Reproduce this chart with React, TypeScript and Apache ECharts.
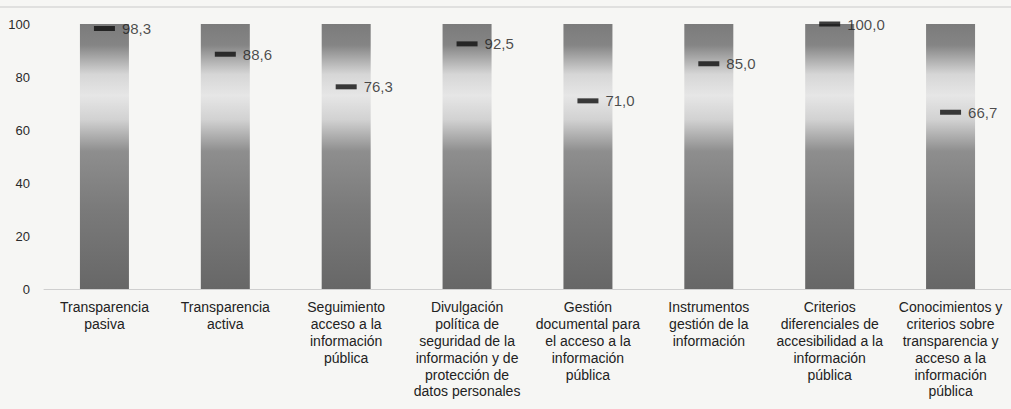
import React, { useEffect, useRef } from "react";
import * as echarts from "echarts";

const categories: string[] = [
  "Transparencia\npasiva",
  "Transparencia\nactiva",
  "Seguimiento\nacceso a la\ninformación\npública",
  "Divulgación\npolítica de\nseguridad de la\ninformación y de\nprotección de\ndatos personales",
  "Gestión\ndocumental para\nel acceso a la\ninformación\npública",
  "Instrumentos\ngestión de la\ninformación",
  "Criterios\ndiferenciales de\naccesibilidad a la\ninformación\npública",
  "Conocimientos y\ncriterios sobre\ntransparencia y\nacceso a la\ninformación\npública",
];
const scaleMax: number[] = [100, 100, 100, 100, 100, 100, 100, 100];
const values: number[] = [98.3, 88.6, 76.3, 92.5, 71.0, 85.0, 100.0, 66.7];
const yTicks = { min: 0, max: 100, interval: 20 };

export default function App() {
  const ref = useRef<HTMLDivElement>(null);
  useEffect(() => {
    document.body.style.margin = "0";
    if (!ref.current) return;
    const chart = echarts.init(ref.current, null, { renderer: "svg" });
    const font = "'Liberation Sans', Arial, sans-serif";
    const grad = new echarts.graphic.LinearGradient(0, 0, 0, 1, [
      { offset: 0, color: "#7b7b7b" },
      { offset: 0.08, color: "#858585" },
      { offset: 0.19, color: "#d6d6d6" },
      { offset: 0.27, color: "#e6e6e6" },
      { offset: 0.36, color: "#d2d2d2" },
      { offset: 0.48, color: "#8e8e8e" },
      { offset: 0.7, color: "#7a7a7a" },
      { offset: 1, color: "#676767" },
    ]);
    chart.setOption({
      animation: false,
      backgroundColor: "#f6f6f4",
      textStyle: { fontFamily: font },
      graphic: [
        {
          type: "line",
          shape: { x1: 0, y1: 7, x2: 1011, y2: 7 },
          style: { stroke: "#d9d9d9", lineWidth: 1.5 },
          silent: true,
        },
      ],
      grid: { left: 44, right: -6, top: 24, bottom: 120 },
      xAxis: {
        type: "category",
        data: categories,
        axisLine: { lineStyle: { color: "#cfcfcf", width: 1 } },
        axisTick: { show: false },
        axisLabel: {
          interval: 0,
          color: "#222",
          fontSize: 14,
          lineHeight: 16.8,
          margin: 10,
          fontFamily: font,
        },
      },
      yAxis: {
        type: "value",
        min: yTicks.min,
        max: yTicks.max,
        interval: yTicks.interval,
        axisLine: { show: false },
        axisTick: { show: false },
        splitLine: { show: false },
        axisLabel: { color: "#2a2a2a", fontSize: 13, margin: 14, fontFamily: font },
      },
      series: [
        {
          type: "bar",
          data: scaleMax,
          barWidth: 49,
          itemStyle: { color: grad },
          silent: true,
        },
        {
          type: "scatter",
          data: values,
          symbol: "rect",
          symbolSize: [21, 5],
          itemStyle: { color: "#0e0e0e" },
          label: {
            show: true,
            position: "right",
            distance: 7,
            color: "#1e1e1e",
            fontSize: 15,
            fontFamily: font,
            formatter: (p: any) => Number(p.value).toFixed(1).replace(".", ","),
          },
          z: 5,
        },
      ],
    });
    return () => chart.dispose();
  }, []);
  return <div ref={ref} style={{ width: 1011, height: 409 }} />;
}
